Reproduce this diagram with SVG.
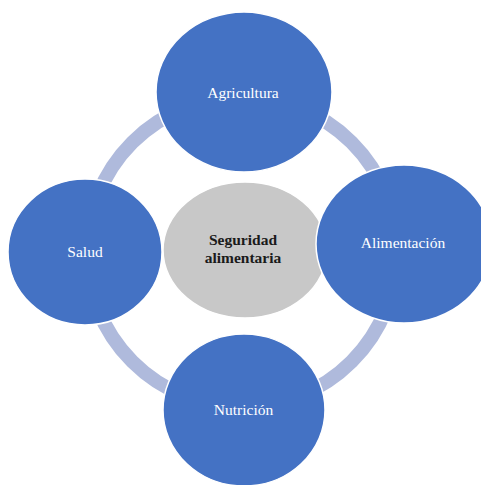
<svg xmlns="http://www.w3.org/2000/svg" width="481" height="485" viewBox="0 0 481 485">
  <style>
    .ring { fill: none; stroke: #AFBADC; stroke-width: 14; }
    .outer { fill: #4472C4; stroke: #FFFFFF; stroke-width: 1.5; }
    .core { fill: #C8C8C8; stroke: #FFFFFF; stroke-width: 1.5; }
    .lbl { font-family: "Liberation Serif", "Times New Roman", serif; font-size: 15.5px; fill: #FFFFFF; text-anchor: middle; }
    .clbl { font-family: "Liberation Serif", "Times New Roman", serif; font-size: 15.5px; font-weight: bold; fill: #1A1A1A; text-anchor: middle; }
  </style>
  <rect width="481" height="485" fill="#FFFFFF"/>
  <g id="connectors">
    <circle class="ring" cx="242" cy="252" r="155"/>
  </g>
  <g id="seguridad">
    <ellipse class="core" cx="245" cy="250" rx="82" ry="68"/>
    <text class="clbl" x="243" y="245">Seguridad</text>
    <text class="clbl" x="243" y="263">alimentaria</text>
  </g>
  <g id="agricultura">
    <ellipse class="outer" cx="244" cy="92" rx="88" ry="80"/>
    <text class="lbl" x="243" y="98">Agricultura</text>
  </g>
  <g id="alimentacion">
    <ellipse class="outer" cx="404" cy="244" rx="88" ry="79"/>
    <text class="lbl" x="403" y="248">Alimentación</text>
  </g>
  <g id="salud">
    <ellipse class="outer" cx="85" cy="252" rx="77" ry="73"/>
    <text class="lbl" x="85" y="257">Salud</text>
  </g>
  <g id="nutricion">
    <ellipse class="outer" cx="244" cy="410" rx="81" ry="76"/>
    <text class="lbl" x="243.5" y="415">Nutrición</text>
  </g>
</svg>
